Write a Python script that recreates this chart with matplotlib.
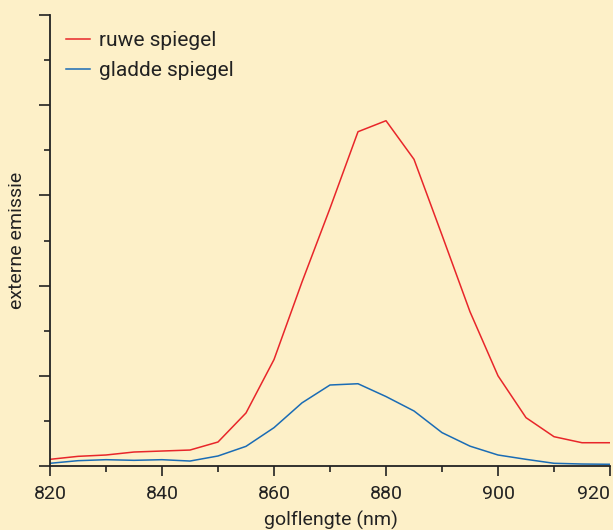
import matplotlib.pyplot as plt
from matplotlib.ticker import MultipleLocator, NullFormatter

golflengte = [820, 825, 830, 835, 840, 845, 850, 855, 860, 865, 870,
              875, 880, 885, 890, 895, 900, 905, 910, 915, 920]
ruwe = [0.074, 0.107, 0.122, 0.155, 0.166, 0.177, 0.266, 0.588, 1.18, 2.04, 2.857,
        3.706, 3.828, 3.40, 2.56, 1.71, 1.00, 0.536, 0.325, 0.258, 0.258]
gladde = [0.03, 0.059, 0.07, 0.063, 0.07, 0.055, 0.111, 0.218, 0.425, 0.70, 0.898,
          0.912, 0.77, 0.61, 0.37, 0.22, 0.122, 0.074, 0.03, 0.022, 0.019]
xticks = [820, 840, 860, 880, 900, 920]

bg = '#fdf0c8'
ink = '#222222'
W, H = 613, 530
plt.rcParams['font.family'] = ['Roboto', 'DejaVu Sans']

fig = plt.figure(figsize=(W/100, H/100), dpi=100, facecolor=bg)
ax = fig.add_axes([50/W, 64/H, 560/W, 451/H])
ax.set_facecolor(bg)

ax.plot(golflengte, ruwe, color='#e8262a', lw=1.1, label='ruwe spiegel')
ax.plot(golflengte, gladde, color='#1a6cb5', lw=1.1, label='gladde spiegel')

ax.set_xlim(820, 920)
ax.set_ylim(0, 5)
ax.set_xticks(xticks)
ax.xaxis.set_minor_locator(MultipleLocator(10))
ax.yaxis.set_major_locator(MultipleLocator(1))
ax.yaxis.set_minor_locator(MultipleLocator(0.5))
ax.yaxis.set_major_formatter(NullFormatter())

for s in ['top', 'right']:
    ax.spines[s].set_visible(False)
for s in ['left', 'bottom']:
    ax.spines[s].set_color(ink)
    ax.spines[s].set_linewidth(1.3)
ax.tick_params(which='major', length=7, width=1.2, color=ink, labelcolor=ink,
               labelsize=14, pad=7)
ax.tick_params(which='minor', length=4, width=1.2, color=ink)
ax.tick_params(axis='y', which='major', length=8)
ax.get_xticklabels()[-1].set_horizontalalignment('right')

fig.text(331/W, 1 - 520/H, 'golflengte (nm)', fontsize=14, color=ink,
         ha='center', va='center')
fig.text(17/W, 1 - 240/H, 'externe emissie', fontsize=14, color=ink,
         ha='center', va='center', rotation=90)

leg = ax.legend(loc='upper left', bbox_to_anchor=(66/W, 1 - 31/H),
                bbox_transform=fig.transFigure, frameon=False, borderpad=0,
                borderaxespad=0, fontsize=15, handlelength=1.15,
                handletextpad=0.45, labelspacing=0.55)
for t in leg.get_texts():
    t.set_color(ink)

fig.savefig('out.png', dpi=100, facecolor=bg)
